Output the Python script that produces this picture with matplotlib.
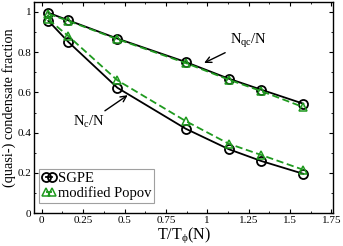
import matplotlib
matplotlib.use("Agg")
import matplotlib.pyplot as plt
from matplotlib.ticker import MultipleLocator

plt.rcParams["font.family"] = ["Liberation Serif", "DejaVu Serif"]
plt.rcParams["mathtext.fontset"] = "custom"
plt.rcParams["mathtext.rm"] = "Liberation Serif"
plt.rcParams["mathtext.it"] = "Liberation Serif"

# temperatures T/T_phi(N)
temps = [0.04, 0.16, 0.457, 0.869, 1.13, 1.324, 1.58]

# quasi-condensate fraction N_qc/N
nqc_sgpe = [0.995, 0.958, 0.867, 0.751, 0.668, 0.614, 0.544]
nqc_popov = [0.99, 0.955, 0.864, 0.746, 0.663, 0.607, 0.527]

# condensate fraction N_c/N
nc_sgpe = [0.955, 0.851, 0.623, 0.42, 0.318, 0.26, 0.196]
nc_popov = [0.962, 0.88, 0.66, 0.458, 0.345, 0.29, 0.216]

xticks = [0, 0.25, 0.5, 0.75, 1, 1.25, 1.5, 1.75]
xtick_labels = ["0", "0.25", "0.5", "0.75", "1", "1.25", "1.5", "1.75"]
yticks = [0, 0.2, 0.4, 0.6, 0.8, 1]
ytick_labels = ["0", "0.2", "0.4", "0.6", "0.8", "1"]

green = "#1f9a1f"

fig = plt.figure(figsize=(3.43, 2.46), dpi=100)
ax = fig.add_axes([0.1, 0.133, 0.871, 0.86])

# SGPE: black circles, solid
ax.plot(temps, nqc_sgpe, color="black", lw=1.3, marker="o", ms=6.5,
        mfc="none", mew=1.3, label="SGPE")
ax.plot(temps, nc_sgpe, color="black", lw=1.3, marker="o", ms=6.5,
        mfc="none", mew=1.3)

# modified Popov: green triangles, dashed
ax.plot(temps, nqc_popov, color=green, lw=1.3, ls=(0, (4, 2)), marker="^",
        ms=5.5, mfc="none", mew=1.1, label="modified Popov")
ax.plot(temps, nc_popov, color=green, lw=1.3, ls=(0, (4, 2)), marker="^",
        ms=5.5, mfc="none", mew=1.1)

ax.annotate(r"N$_{\mathrm{qc}}$/N", xy=(0.966, 0.74), xytext=(1.14, 0.81),
            fontsize=10.5, ha="left", va="bottom",
            arrowprops=dict(arrowstyle="->", color="black", lw=1.0))
ax.annotate(r"N$_{\mathrm{c}}$/N", xy=(0.533, 0.594), xytext=(0.19, 0.415),
            fontsize=10.5, ha="left", va="bottom",
            arrowprops=dict(arrowstyle="->", color="black", lw=1.0,
                            shrinkA=0))

ax.set_xlim(-0.045, 1.76)
ax.set_ylim(0, 1.05)
ax.set_xticks(xticks)
ax.set_xticklabels(xtick_labels)
ax.set_yticks(yticks)
ax.set_yticklabels(ytick_labels)
ax.xaxis.set_minor_locator(MultipleLocator(0.125))
ax.yaxis.set_minor_locator(MultipleLocator(0.1))
ax.tick_params(which="both", direction="in", top=True, right=True,
               labelsize=8, pad=2)
ax.tick_params(which="major", length=3)
ax.tick_params(which="minor", length=1.5)
for s in ax.spines.values():
    s.set_linewidth(1.0)

ax.set_xlabel(r"T/T$_{\phi}$(N)", fontsize=11.5, labelpad=0)
ax.set_ylabel("(quasi-) condensate fraction", fontsize=10.3, labelpad=1)

leg = ax.legend(loc="lower left", bbox_to_anchor=(0.016, 0.049), fontsize=10.5,
                numpoints=2, handlelength=1.0, handletextpad=0.1,
                borderpad=0.2, labelspacing=0.05, fancybox=False,
                edgecolor="#888888", borderaxespad=0)
leg.get_frame().set_linewidth(0.8)

fig.savefig("out.png", dpi=100)
